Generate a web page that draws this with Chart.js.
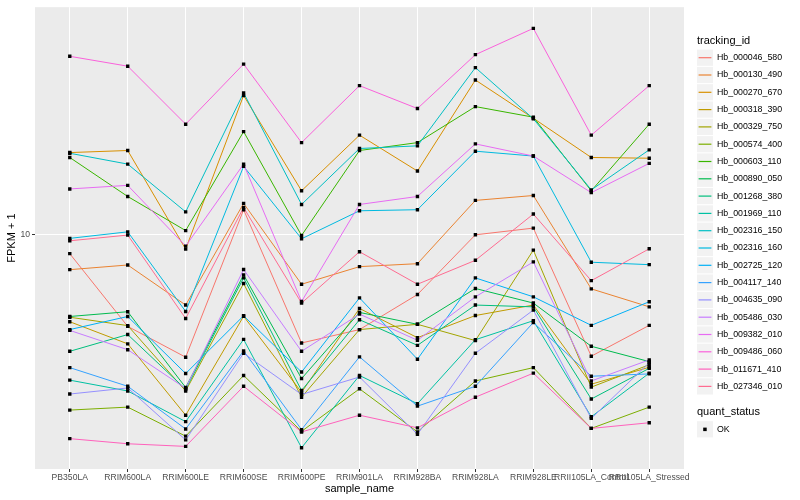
<!DOCTYPE html>
<html>
<head>
<meta charset="utf-8">
<script src="https://cdn.jsdelivr.net/npm/chart.js@4.4.0/dist/chart.umd.min.js"></script>
<style>
  html, body { margin: 0; padding: 0; background: #fff; }
  #wrap { width: 800px; height: 500px; }
</style>
</head>
<body>
<div id="wrap"><canvas id="grafico" width="800" height="500"></canvas></div>
<script>
// amostras no eixo x
const categorias = ["PB350LA", "RRIM600LA", "RRIM600LE", "RRIM600SE", "RRIM600PE", "RRIM901LA",
  "RRIM928BA", "RRIM928LA", "RRIM928LE", "RRII105LA_Control", "RRII105LA_Stressed"];

const ids = ["Hb_000046_580", "Hb_000130_490", "Hb_000270_670", "Hb_000318_390", "Hb_000329_750",
  "Hb_000574_400", "Hb_000603_110", "Hb_000890_050", "Hb_001268_380", "Hb_001969_110",
  "Hb_002316_150", "Hb_002316_160", "Hb_002725_120", "Hb_004117_140", "Hb_004635_090",
  "Hb_005486_030", "Hb_009382_010", "Hb_009486_060", "Hb_011671_410", "Hb_027346_010"];

// FPKM + 1 por amostra
const hb000046_580 = [8.62, 4.92, 3.88, 12.1, 4.33, 4.80, 6.29, 9.97, 10.5, 3.91, 4.96];
const hb000130_490 = [7.62, 7.90, 5.80, 12.7, 6.81, 7.80, 7.98, 13.0, 13.5, 6.57, 5.72];
const hb000270_670 = [18.8, 19.1, 8.93, 29.2, 14.0, 21.5, 16.3, 32.9, 24.5, 18.1, 18.0];
const hb000318_390 = [5.10, 4.30, 2.48, 5.32, 2.96, 5.65, 4.51, 5.35, 5.80, 3.15, 3.59];
const hb000329_750 = [5.28, 4.95, 2.99, 6.85, 2.85, 4.80, 5.00, 4.41, 8.86, 3.08, 3.66];
const hb000574_400 = [2.58, 2.64, 2.11, 3.37, 2.19, 3.04, 2.18, 3.23, 3.58, 2.24, 2.64];
const hb000603_110 = [18.1, 13.4, 10.3, 22.1, 9.92, 19.1, 20.3, 26.8, 24.7, 14.0, 23.4];
const hb000890_050 = [5.31, 5.51, 3.07, 7.32, 3.29, 5.48, 5.00, 6.59, 5.89, 4.22, 3.75];
const hb001268_380 = [4.06, 4.62, 3.03, 7.15, 3.00, 5.18, 4.25, 5.80, 5.72, 2.81, 3.56];
const hb001969_110 = [3.25, 2.99, 2.36, 4.45, 1.93, 3.37, 2.71, 4.44, 5.14, 2.45, 3.43];
const hb002316_150 = [18.7, 17.2, 11.9, 29.8, 12.6, 19.4, 19.8, 36.2, 24.4, 14.1, 19.2];
const hb002316_160 = [9.70, 10.2, 5.52, 16.9, 9.67, 12.0, 12.1, 19.0, 18.3, 8.07, 7.92];
const hb002725_120 = [4.80, 5.31, 3.42, 5.34, 3.46, 6.13, 3.82, 7.15, 6.18, 4.96, 5.95];
const hb004117_140 = [3.58, 3.10, 2.23, 4.07, 2.22, 3.89, 2.66, 3.10, 5.07, 3.35, 3.41];
const hb004635_090 = [2.92, 3.06, 2.05, 4.00, 2.91, 3.33, 2.14, 4.00, 5.58, 2.42, 3.72];
const hb005486_030 = [4.77, 4.11, 3.05, 7.63, 4.06, 5.41, 4.42, 6.18, 8.09, 3.23, 3.80];
const hb009382_010 = [14.2, 14.6, 9.14, 17.2, 5.96, 12.6, 13.4, 20.1, 18.3, 13.8, 17.3];
const hb009486_060 = [39.5, 36.6, 23.4, 37.2, 20.3, 31.5, 26.4, 40.0, 49.0, 21.5, 31.5];
const hb011671_410 = [2.07, 1.99, 1.95, 3.10, 2.18, 2.48, 2.25, 2.85, 3.43, 2.24, 2.34];
const hb027346_010 = [9.52, 9.95, 5.23, 12.3, 5.89, 8.75, 6.81, 8.19, 11.7, 7.00, 8.95];

const yTicks = [10];

const series = [hb000046_580, hb000130_490, hb000270_670, hb000318_390, hb000329_750,
  hb000574_400, hb000603_110, hb000890_050, hb001268_380, hb001969_110,
  hb002316_150, hb002316_160, hb002725_120, hb004117_140, hb004635_090,
  hb005486_030, hb009382_010, hb009486_060, hb011671_410, hb027346_010];

const cores = ["#F8766D", "#EA8331", "#D89000", "#C09B00", "#A3A500", "#7CAE00", "#39B600",
  "#00BB4E", "#00BF7D", "#00C1A3", "#00BFC4", "#00BAE0", "#00B0F6", "#35A2FF", "#9590FF",
  "#C77CFF", "#E76BF3", "#FA62DB", "#FF62BC", "#FF6C91"];

const fonte = '"Liberation Sans", Arial, Helvetica, sans-serif';
Chart.defaults.font.family = fonte;

// fundo cinza do painel
const painel = {
  id: "painel",
  beforeDraw(chart) {
    const { ctx, chartArea: a } = chart;
    ctx.save();
    ctx.fillStyle = "#EBEBEB";
    ctx.fillRect(a.left, a.top, a.right - a.left, a.bottom - a.top);
    ctx.restore();
  }
};

// legendas no estilo ggplot
const legenda = {
  id: "legenda",
  afterDraw(chart) {
    const ctx = chart.ctx;
    ctx.save();
    ctx.textBaseline = "middle";
    ctx.textAlign = "left";
    ctx.fillStyle = "#000";
    ctx.font = "11px " + fonte;
    ctx.fillText("tracking_id", 697, 40.5);
    ctx.font = "8.8px " + fonte;
    ids.forEach((id, i) => {
      const cy = 57.7 + i * 17.3;
      ctx.fillStyle = "#F2F2F2";
      ctx.fillRect(697, cy - 8.1, 16, 16.2);
      ctx.strokeStyle = cores[i];
      ctx.lineWidth = 1.2;
      ctx.beginPath();
      ctx.moveTo(698.6, cy);
      ctx.lineTo(711.4, cy);
      ctx.stroke();
      ctx.fillStyle = "#000";
      ctx.fillText(id, 717, cy);
    });
    ctx.font = "11px " + fonte;
    ctx.fillText("quant_status", 697, 412.3);
    ctx.fillStyle = "#F2F2F2";
    ctx.fillRect(697, 429.3 - 8.1, 16, 16.2);
    ctx.fillStyle = "#000";
    ctx.fillRect(703.2, 427.6, 3.5, 3.5);
    ctx.font = "8.8px " + fonte;
    ctx.fillText("OK", 717, 429.3);
    ctx.restore();
  }
};

const datasets = series.map((s, i) => ({
  label: ids[i],
  data: s.map((v, j) => ({ x: j, y: v })),
  borderColor: cores[i],
  borderWidth: 1,
  pointRadius: 0,
  tension: 0,
  fill: false,
  order: series.length - i
}));

datasets.push({
  label: "OK",
  data: series.flatMap(s => s.map((v, j) => ({ x: j, y: v }))),
  showLine: false,
  pointStyle: "rect",
  pointRadius: 2.4,
  pointBackgroundColor: "#000",
  pointBorderWidth: 0,
  order: 0
});

new Chart(document.getElementById("grafico"), {
  type: "line",
  data: { datasets },
  options: {
    responsive: false,
    animation: false,
    layout: { padding: { top: 5, right: 116, bottom: 0, left: 0 } },
    plugins: { legend: { display: false }, tooltip: { enabled: false } },
    scales: {
      x: {
        type: "linear",
        min: -0.6,
        max: 10.6,
        afterBuildTicks: s => { s.ticks = categorias.map((c, i) => ({ value: i })); },
        afterFit: s => { s.height = 31; },
        ticks: {
          callback: v => categorias[v],
          autoSkip: false,
          maxRotation: 0,
          minRotation: 0,
          color: "#4D4D4D",
          font: { size: 8.6 },
          padding: 0.5
        },
        grid: { color: "#FFFFFF", lineWidth: 1, tickLength: 3, tickColor: "#333333" },
        border: { display: false },
        title: { display: true, text: "sample_name", color: "#000", font: { size: 11 }, padding: { top: 0, bottom: 4 } }
      },
      y: {
        type: "logarithmic",
        min: 1.638,
        max: 57.7,
        afterBuildTicks: s => { s.ticks = yTicks.map(v => ({ value: v })); },
        afterFit: s => { s.width = 35; },
        ticks: {
          callback: v => String(v),
          color: "#4D4D4D",
          font: { size: 8.6 },
          padding: 2
        },
        grid: { color: "#FFFFFF", lineWidth: 1, tickLength: 3, tickColor: "#333333" },
        border: { display: false },
        title: { display: true, text: "FPKM + 1", color: "#000", font: { size: 11 }, padding: { top: 5, bottom: 0 } }
      }
    }
  },
  plugins: [painel, legenda]
});
</script>
</body>
</html>
